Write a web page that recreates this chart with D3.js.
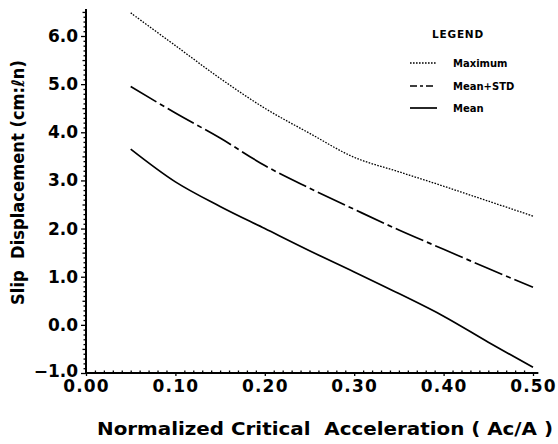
<!DOCTYPE html>
<html>
<head>
<meta charset="utf-8">
<script src="https://cdn.jsdelivr.net/npm/d3@7"></script>
<style>
  html, body { margin: 0; padding: 0; background: #fff; }
  svg { display: block; }
</style>
</head>
<body>
<svg id="chart" width="558" height="444"></svg>
<script>
// ---- data ----
const accel = [0.05, 0.10, 0.15, 0.20, 0.25, 0.30, 0.35, 0.40, 0.45, 0.50];
const maximum = [6.48, 5.80, 5.12, 4.50, 3.98, 3.48, 3.18, 2.88, 2.57, 2.26];
const meanStd = [4.95, 4.40, 3.88, 3.31, 2.84, 2.40, 1.97, 1.57, 1.17, 0.78];
const mean    = [3.65, 2.97, 2.46, 2.00, 1.54, 1.10, 0.65, 0.18, -0.36, -0.88];
const xTicks = [0.00, 0.10, 0.20, 0.30, 0.40, 0.50];
const yTicks = [-1, 0, 1, 2, 3, 4, 5, 6];
const seriesNames = ["Maximum", "Mean+STD", "Mean"];

const svg = d3.select("#chart");
const x = d3.scaleLinear().domain([0, 0.5]).range([86, 533]);
const y = d3.scaleLinear().domain([-1, 6]).range([373, 36]);
const xMax = 0.506, yMax = 6.56;

const font = "'DejaVu Sans', Arial, sans-serif";
const styles = [
  { dash: "1.6,1.4", width: 1.3 },
  { dash: "30,4,5,4", width: 1.7 },
  { dash: null, width: 1.7 }
];

// axes lines
svg.append("line").attr("x1", x(0)).attr("x2", x(0)).attr("y1", y(-1)).attr("y2", y(yMax))
  .attr("stroke", "#000").attr("stroke-width", 2);
svg.append("line").attr("x1", x(0)).attr("x2", x(xMax)).attr("y1", y(-1)).attr("y2", y(-1))
  .attr("stroke", "#000").attr("stroke-width", 2);

// y minor ticks
const gyMinor = svg.append("g").attr("transform", `translate(${x(0)},0)`)
  .call(d3.axisLeft(y).tickValues(d3.range(-10, 66, 1).map(v => v / 10).filter(v => Math.abs(v * 2 - Math.round(v * 2)) > 1e-6))
    .tickSize(2.5).tickFormat(""));
const gyMid = svg.append("g").attr("transform", `translate(${x(0)},0)`)
  .call(d3.axisLeft(y).tickValues(d3.range(-1, 6.6, 1).map(v => v + 0.5).filter(v => v <= 6.5))
    .tickSize(3.5).tickFormat(""));
const gy = svg.append("g").attr("transform", `translate(${x(0)},0)`)
  .call(d3.axisLeft(y).tickValues(yTicks).tickSize(5).tickPadding(3).tickFormat(d3.format(".1f")));
[gyMinor, gyMid, gy].forEach(g => {
  g.select(".domain").remove();
  g.selectAll("line").attr("stroke", "#000").attr("stroke-width", 1.3);
});
gy.selectAll("text").attr("font-family", font).attr("font-weight", "bold")
  .attr("font-size", 17).attr("fill", "#000");
gy.selectAll(".tick").filter(d => d === -1).select("text").attr("dy", "0.22em");

// x minor ticks (inward)
const gxMinor = svg.append("g").attr("transform", `translate(0,${y(-1)})`)
  .call(d3.axisTop(x).tickValues(d3.range(1, 51, 1).filter(v => v % 10 !== 0).map(v => v / 100))
    .tickSize(2.5).tickFormat(""));
const gx = svg.append("g").attr("transform", `translate(0,${y(-1)})`)
  .call(d3.axisBottom(x).tickValues(xTicks).tickSize(3).tickPadding(4).tickFormat(d3.format(".2f")));
[gxMinor, gx].forEach(g => {
  g.select(".domain").remove();
  g.selectAll("line").attr("stroke", "#000").attr("stroke-width", 1.3);
});
gx.selectAll("text").attr("font-family", font).attr("font-weight", "bold")
  .attr("font-size", 17).attr("letter-spacing", 1.2).attr("fill", "#000");

// series lines
const allSeries = [maximum, meanStd, mean];
const line = d3.line().x(d => x(d[0])).y(d => y(d[1])).curve(d3.curveCatmullRom.alpha(0.5));
allSeries.forEach((vals, i) => {
  svg.append("path")
    .datum(accel.map((a, j) => [a, vals[j]]))
    .attr("d", line)
    .attr("fill", "none")
    .attr("stroke", "#000")
    .attr("stroke-width", styles[i].width)
    .attr("stroke-dasharray", styles[i].dash);
});

// legend
svg.append("text").attr("x", 432).attr("y", 38).text("LEGEND")
  .attr("font-family", font).attr("font-weight", "bold").attr("font-size", 10.5)
  .attr("letter-spacing", 0.8).attr("fill", "#000");
const legendY = [63, 86, 108];
const legendDash = ["1.6,1.4", "7,3,3,3,7", null];
seriesNames.forEach((name, i) => {
  svg.append("line").attr("x1", 410).attr("x2", 437).attr("y1", legendY[i]).attr("y2", legendY[i])
    .attr("stroke", "#000").attr("stroke-width", styles[i].width)
    .attr("stroke-dasharray", legendDash[i]);
  svg.append("text").attr("x", 453).attr("y", legendY[i] + 3.5).text(name)
    .attr("font-family", font).attr("font-weight", "bold").attr("font-size", 10)
    .attr("fill", "#000");
});

// axis titles
svg.append("text").attr("x", 97).attr("y", 435)
  .text("Normalized Critical  Acceleration ( Ac/A )")
  .attr("textLength", 456).attr("lengthAdjust", "spacingAndGlyphs")
  .style("white-space", "pre")
  .attr("font-family", font).attr("font-weight", "bold").attr("font-size", 17).attr("fill", "#000");

svg.append("text")
  .attr("transform", "translate(24,305) rotate(-90)")
  .text("Slip  Displacement (cm:ℓn)")
  .attr("textLength", 245).attr("lengthAdjust", "spacingAndGlyphs")
  .style("white-space", "pre")
  .attr("font-family", font).attr("font-weight", "bold").attr("font-size", 17).attr("fill", "#000");
</script>
</body>
</html>
